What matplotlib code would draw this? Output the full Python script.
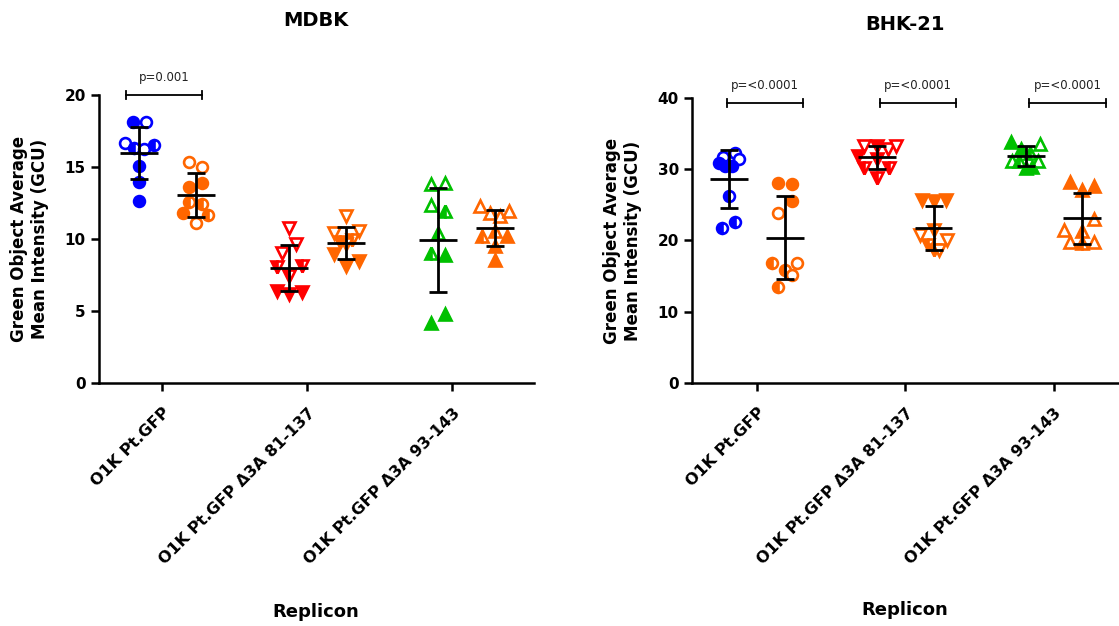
import matplotlib.pyplot as plt
import numpy as np

plt.rcParams['font.family'] = ['DejaVu Sans']
plt.rcParams['font.weight'] = 'bold'

replicons = ['O1K Pt.GFP', 'O1K Pt.GFP \u03943A 81-137', 'O1K Pt.GFP \u03943A 93-143']
cells = ['MDBK', 'BHK-21']

# GCU per well, six columns per cell line (replicon, then its orange partner)
# exp: 0 = experiment 1 (filled), 1 = experiment 2 (half), 2 = experiment 3 (open)
mdbk_vals = [
    [18.1, 18.14, 16.7, 16.35, 16.28, 16.5, 15.07, 13.98, 12.66],
    [15.38, 15.0, 13.59, 13.89, 12.57, 12.45, 11.82, 11.68, 11.08],
    [10.78, 9.66, 9.04, 8.04, 8.1, 7.41, 6.41, 6.2, 6.32],
    [11.59, 10.43, 10.55, 9.78, 9.92, 9.62, 8.97, 8.45, 8.1],
    [13.8, 13.92, 12.36, 11.94, 10.43, 9.04, 8.92, 4.81, 4.16],
    [12.29, 11.82, 11.59, 11.94, 10.55, 10.24, 10.24, 9.5, 8.57],
]
mdbk_exp = [
    [0, 2, 2, 1, 2, 1, 0, 0, 0],
    [2, 2, 0, 0, 1, 1, 0, 1, 2],
    [2, 2, 2, 1, 1, 1, 0, 0, 0],
    [2, 2, 2, 1, 1, 1, 0, 0, 0],
    [2, 2, 2, 1, 1, 1, 0, 0, 0],
    [2, 2, 2, 2, 1, 1, 0, 0, 0],
]
bhk_vals = [
    [31.76, 32.23, 31.4, 30.83, 30.46, 30.46, 26.29, 22.64, 21.7],
    [28.11, 27.88, 25.59, 23.81, 16.8, 16.89, 15.86, 15.2, 13.52],
    [33.26, 33.26, 32.8, 33.26, 31.86, 31.4, 30.13, 30.13, 28.73],
    [25.68, 25.54, 25.68, 21.47, 20.77, 19.37, 20.07, 18.67, 18.67],
    [33.87, 33.54, 32.8, 32.32, 31.2, 31.2, 31.2, 30.13, 30.27],
    [28.25, 27.65, 27.09, 22.97, 21.47, 21.38, 19.84, 19.7, 19.84],
]
bhk_exp = [
    [2, 2, 2, 0, 0, 0, 1, 1, 1],
    [0, 0, 0, 2, 1, 2, 1, 2, 1],
    [2, 0, 2, 2, 0, 0, 1, 1, 1],
    [0, 0, 0, 1, 2, 1, 2, 1, 2],
    [0, 2, 0, 1, 2, 1, 2, 0, 0],
    [0, 0, 0, 2, 2, 1, 2, 1, 2],
]
p_labels = [['p=0.001'], ['p=<0.0001', 'p=<0.0001', 'p=<0.0001']]

# horizontal scatter of overlapping points, in pixels
mdbk_jit = [
    [-6, 7, -14, -5, 5, 15, 0, 0, 0],
    [-7, 6, -7, 6, -7, 6, -13, 12, 0],
    [0, 7, -7, -12, 13, 0, -12, 0, 13],
    [0, -12, 13, -6, 6, 0, -12, 13, 0],
    [-7, 7, -7, 7, 0, -7, 7, 7, -7],
    [-15, -5, 5, 14, 0, -13, 12, 0, 0],
]
bhk_jit = [
    [-6, 6, 10, -10, -4, 3, 0, 6, -7],
    [-7, 7, 7, -7, -13, 12, 0, 7, -7],
    [-13, 0, 11, 19, -19, 0, -13, 12, 0],
    [-12, 0, 12, 0, -14, -6, 13, 0, 5],
    [-15, 14, -5, 4, -14, -7, 12, 0, 6],
    [-12, 12, 0, 12, -18, 0, -12, 0, 12],
]

col_colors = ['#0000FF', '#FF6600', '#FF0000', '#FF6600', '#00C000', '#FF6600']
group_markers = ['o', 'v', '^']

fig = plt.figure(figsize=(11.19, 6.26), dpi=100)
ax1 = fig.add_axes([0.0885, 0.3882, 0.3887, 0.4600])
ax2 = fig.add_axes([0.6184, 0.3882, 0.3810, 0.4553])

panels = [
    dict(ax=ax1, vals=mdbk_vals, exp=mdbk_exp, jit=mdbk_jit, ppu=149.5,
         xlim=(-0.458, 2.45), ylim=(0, 20), yticks=[0, 5, 10, 15, 20],
         xticks=[-0.037, 0.933, 1.903], bracket_y=20.0, text_y=21.2,
         brackets=[(-0.278, 0.231)]),
    dict(ax=ax2, vals=bhk_vals, exp=bhk_exp, jit=bhk_jit, ppu=148.7,
         xlim=(-0.437, 2.434), ylim=(0, 40), yticks=[0, 10, 20, 30, 40],
         xticks=[0, 1, 2], bracket_y=39.23, text_y=41.7,
         brackets=[(-0.204, 0.311), (0.83, 1.341), (1.835, 2.35)]),
]

for k, p in enumerate(panels):
    ax = p['ax']
    for c in range(6):
        g = c // 2
        x0 = g + (-0.19 if c % 2 == 0 else 0.19)
        color = col_colors[c]
        marker = group_markers[g]
        ms = 7.8 if marker == 'o' else 8.6
        for v, e, j in zip(p['vals'][c], p['exp'][c], p['jit'][c]):
            kw = dict(marker=marker, ls='none', ms=ms, mew=1.9, mec=color,
                      clip_on=False, zorder=3)
            if e == 0:
                kw.update(mfc=color)
            elif e == 1:
                kw.update(mfc=color, fillstyle='left', markerfacecoloralt='white')
            else:
                kw.update(mfc='white')
            ax.plot(x0 + j / p['ppu'], v, **kw)
        vals = np.array(p['vals'][c])
        m, sd = vals.mean(), vals.std(ddof=1)
        ax.errorbar(x0, m, yerr=sd, color='black', capsize=6.5, capthick=2,
                    elinewidth=2, zorder=4, clip_on=False)
        ax.hlines(m, x0 - 0.127, x0 + 0.127, color='black', lw=2, zorder=4)

    # significance brackets
    yr = p['ylim'][1]
    for (xa, xb), lab in zip(p['brackets'], p_labels[k]):
        ax.plot([xa, xb], [p['bracket_y']] * 2, color='black', lw=1.3, clip_on=False)
        for xe in (xa, xb):
            ax.plot([xe, xe], [p['bracket_y'] - yr * 0.014, p['bracket_y'] + yr * 0.014],
                    color='black', lw=1.3, clip_on=False)
        ax.text((xa + xb) / 2, p['text_y'], lab, ha='center', va='center',
                fontsize=8.5, fontweight='normal', color='#222222')

    ax.set_xlim(*p['xlim'])
    ax.set_ylim(*p['ylim'])
    ax.set_yticks(p['yticks'])
    ax.set_xticks(p['xticks'])
    ax.set_xticklabels(replicons, rotation=45, ha='right', rotation_mode='anchor',
                       fontsize=11.5, fontweight='bold')
    ax.tick_params(axis='both', direction='out', length=6, width=1.8)
    ax.tick_params(axis='y', labelsize=11)
    ax.tick_params(axis='x', pad=10)
    for s in ['top', 'right']:
        ax.spines[s].set_visible(False)
    for s in ['left', 'bottom']:
        ax.spines[s].set_linewidth(1.8)
    ax.set_ylabel('Green Object Average\nMean Intensity (GCU)', fontsize=12,
                  fontweight='bold', labelpad=11)

fig.text(316 / 1119, 1 - 20 / 626, cells[0], ha='center', va='center',
         fontsize=14, fontweight='bold')
fig.text(905 / 1119, 1 - 25 / 626, cells[1], ha='center', va='center',
         fontsize=14, fontweight='bold')
fig.text(316 / 1119, 1 - 612 / 626, 'Replicon', ha='center', va='center',
         fontsize=13, fontweight='bold')
fig.text(905 / 1119, 1 - 610 / 626, 'Replicon', ha='center', va='center',
         fontsize=13, fontweight='bold')

fig.savefig('out.png', dpi=100)
